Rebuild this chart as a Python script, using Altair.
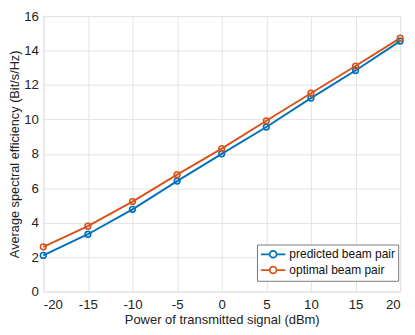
import altair as alt
import pandas as pd

power = [-20, -15, -10, -5, 0, 5, 10, 15, 20]
predicted = [2.10, 3.33, 4.78, 6.42, 8.00, 9.56, 11.24, 12.84, 14.55]
optimal = [2.60, 3.80, 5.23, 6.79, 8.30, 9.92, 11.52, 13.10, 14.72]
series_names = ["predicted beam pair", "optimal beam pair"]
colors = ["#0072BD", "#D95319"]

rows = []
for p, a, b in zip(power, predicted, optimal):
    rows.append({"power": p, "se": a, "series": series_names[0]})
    rows.append({"power": p, "se": b, "series": series_names[1]})
df = pd.DataFrame(rows)

font = "Liberation Sans"
legend_symbol = "M-1,0H0.5M1.66,0H3.17M0.5,0A0.58,0.58 0 1,0 1.66,0A0.58,0.58 0 1,0 0.5,0Z"

color = alt.Color(
    "series:N",
    scale=alt.Scale(domain=series_names, range=colors),
    legend=alt.Legend(
        title=None,
        orient="none",
        legendX=218,
        legendY=233,
        fillColor="white",
        strokeColor="#777",
        padding=3,
        symbolType=legend_symbol,
        symbolSize=144,
        symbolStrokeWidth=1.8,
        symbolFillColor="transparent",
        labelFont=font,
        labelFontSize=12.2,
        labelColor="#111",
        rowPadding=0,
        labelOffset=16,
    ),
)

x = alt.X(
    "power:Q",
    scale=alt.Scale(domain=[-20, 20], nice=False),
    axis=alt.Axis(
        values=power,
        title="Power of transmitted signal (dBm)",
        labelExpr="'' + datum.value",
        labelFont=font, labelFontSize=13.5, labelColor="#222",
        titleFont=font, titleFontSize=13.2, titleFontWeight="normal", titleColor="#222",
        titlePadding=3, labelPadding=6,
        ticks=False, domain=False,
        gridColor="#e3e3e3",
    ),
)
y = alt.Y(
    "se:Q",
    scale=alt.Scale(domain=[0, 16], nice=False),
    axis=alt.Axis(
        values=[0, 2, 4, 6, 8, 10, 12, 14, 16],
        title="Average spectral efficiency (Bit/s/Hz)",
        labelFont=font, labelFontSize=13.5, labelColor="#222",
        titleFont=font, titleFontSize=13, titleFontWeight="normal", titleColor="#222",
        titlePadding=2, labelPadding=5,
        ticks=False, domain=False,
        gridColor="#e3e3e3",
    ),
)

chart = (
    alt.Chart(df)
    .mark_line(strokeWidth=2, point=alt.OverlayMarkDef(filled=False, size=34, strokeWidth=1.6))
    .encode(x=x, y=y, color=color, order="power:Q")
    .properties(
        width=364,
        height=281,
        autosize=alt.AutoSizeParams(type="none"),
        padding={"left": 36, "top": 5, "right": 7, "bottom": 40},
    )
    .configure_view(stroke="#666", strokeWidth=1)
    .configure(background="white")
)

chart.save("out.html", embed_options={"renderer": "svg", "actions": False})
